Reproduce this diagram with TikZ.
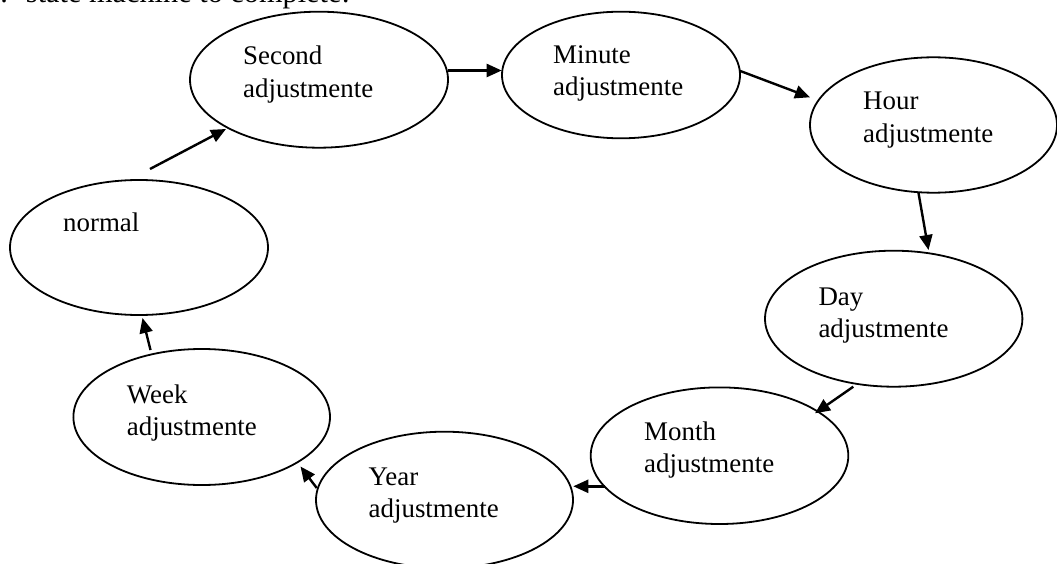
\documentclass[tikz,border=0pt]{standalone}
\usepackage{fontspec}
\setmainfont{Liberation Serif}
\usetikzlibrary{shapes.geometric,arrows.meta}
\newcommand\stlines[2]{\vtop{\hbox{#1}\hbox{#2}}}
\begin{document}
\begin{tikzpicture}[x=1pt,y=-1pt,
  state/.style={ellipse,draw,line width=1.8pt,inner sep=0pt,outer sep=0pt},
  lbl/.style={anchor=base west,inner sep=0pt,font=\fontsize{26.9}{32.2}\selectfont},
  arr/.style={line width=2.4pt,-{Triangle[length=15pt,width=13pt]}}]
\useasboundingbox (0,0) rectangle (1057,564);
\fill[white] (0,0) rectangle (1057,564);
% header text (clipped at top)
\node[anchor=base west,inner sep=0pt,font=\fontsize{30.3}{36}\selectfont] (head) at (25.8,3) {\llap{.\hspace{18pt}}state machine to complete:};
% states
\node[state,minimum width=258pt,minimum height=135pt] (norm) at (139,247.5) {};
\node[state,minimum width=258pt,minimum height=136pt] (second) at (319,79.7) {};
\node[state,minimum width=238pt,minimum height=126.6pt] (minute) at (621,75) {};
\node[state,minimum width=247pt,minimum height=135.4pt] (hour) at (933.5,125) {};
\node[state,minimum width=257.4pt,minimum height=136pt] (day) at (893.7,318.7) {};
\node[state,minimum width=257.6pt,minimum height=136.6pt] (month) at (719.5,455.7) {};
\node[state,minimum width=257pt,minimum height=136.6pt] (year) at (444.5,500) {};
\node[state,minimum width=256.6pt,minimum height=136pt] (week) at (201.7,417) {};
% labels
\node[lbl] (tnorm) at (63,231.7) {normal};
\node[lbl] (tsecond) at (243,65) {\stlines{Second}{adjustmente}};
\node[lbl] (tminute) at (553,63.3) {\stlines{Minute}{adjustmente}};
\node[lbl] (thour) at (863,110) {\stlines{Hour}{adjustmente}};
\node[lbl] (tday) at (818.3,305) {\stlines{Day}{adjustmente}};
\node[lbl] (tmonth) at (644,440) {\stlines{Month}{adjustmente}};
\node[lbl] (tyear) at (368.5,485) {\stlines{Year}{adjustmente}};
\node[lbl] (tweek) at (126.7,403.3) {\stlines{Week}{adjustmente}};
% transitions
\draw[arr] ([shift={(11,-78.5)}]norm.center) -- ([shift={(-93,49.3)}]second.center);
\draw[arr] ([shift={(129.3,-9.2)}]second.center) -- ([shift={(-119.3,-4.5)}]minute.center);
\draw[arr] ([shift={(118.5,-4.3)}]minute.center) -- ([shift={(-123.5,-27.7)}]hour.center);
\draw[arr] ([shift={(-15,68)}]hour.center) -- ([shift={(34.8,-68.7)}]day.center);
\draw[arr] ([shift={(-40.4,68)}]day.center) -- ([shift={(95.5,-42.4)}]month.center);
\draw[arr] ([shift={(-114.5,30.6)}]month.center) -- ([shift={(128.8,-13.7)}]year.center);
\draw[arr] ([shift={(-127.8,-12)}]year.center) -- ([shift={(98.8,49.5)}]week.center);
\draw[arr] ([shift={(-51.2,-67)}]week.center) -- ([shift={(3.5,70.5)}]norm.center);
\end{tikzpicture}
\end{document}
